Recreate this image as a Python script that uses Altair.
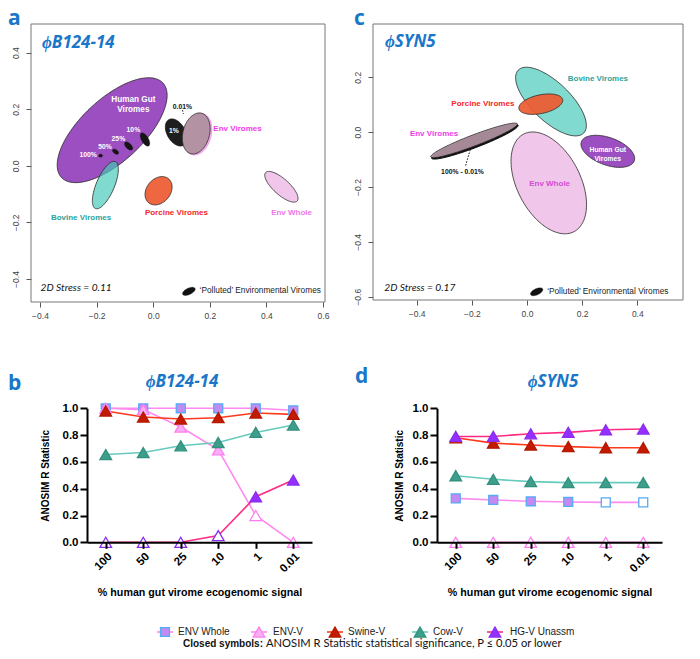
import altair as alt
import numpy as np
import pandas as pd

W, H = 684, 643
OX, OY = 8, 8  # page margin of the embedding page


def px(p):
    return p - OX


def py(p):
    return p - OY


# ----------------------------------------------------------------- line panels (b, d)
pct = ["100", "50", "25", "10", "1", "0.01"]
series = ["ENV Whole", "ENV-V", "Swine-V", "Cow-V", "HG-V Unassm"]

b_env_whole = [1.0, 1.0, 1.0, 1.0, 1.0, 0.985]
b_env_v = [1.0, 0.99, 0.86, 0.69, 0.20, 0.0]
b_swine = [0.98, 0.935, 0.92, 0.93, 0.965, 0.955]
b_cow = [0.655, 0.67, 0.72, 0.745, 0.82, 0.875]
b_hgv = [0.0, 0.0, 0.0, 0.05, 0.34, 0.465]

b_closed_env_whole = [1, 1, 1, 1, 1, 1]
b_closed_env_v = [1, 1, 1, 1, 0, 0]
b_closed_swine = [1, 1, 1, 1, 1, 1]
b_closed_cow = [1, 1, 1, 1, 1, 1]
b_closed_hgv = [0, 0, 0, 0, 1, 1]

d_env_whole = [0.328, 0.316, 0.306, 0.301, 0.298, 0.298]
d_env_v = [0.0, 0.0, 0.0, 0.0, 0.0, 0.0]
d_swine = [0.78, 0.74, 0.726, 0.714, 0.706, 0.706]
d_cow = [0.497, 0.47, 0.453, 0.445, 0.445, 0.445]
d_hgv = [0.79, 0.79, 0.81, 0.82, 0.84, 0.845]

d_closed_env_whole = [1, 1, 1, 1, 0, 0]
d_closed_env_v = [0, 0, 0, 0, 0, 0]
d_closed_swine = [1, 1, 1, 1, 1, 1]
d_closed_cow = [1, 1, 1, 1, 1, 1]
d_closed_hgv = [1, 1, 1, 1, 1, 1]

y_ticks_r = [0.0, 0.2, 0.4, 0.6, 0.8, 1.0]

# styles
line_colors = ["#ff8af0", "#ff8af0", "#ff3a1c", "#66cbbd", "#ff2a84"]
marker_fill = ["#c28bf2", "#f8aef2", "#c41a00", "#3d9e8b", "#9430ff"]
marker_stroke = ["#55aaf5", "#ff7df0", "#b31800", "#33907e", "#8a2cf0"]
marker_shape = ["square", "triangle-up", "triangle-up", "triangle-up", "triangle-up"]
marker_size = [80, 135, 135, 135, 135]
draw_order = ["ENV Whole", "ENV-V", "Cow-V", "Swine-V", "HG-V Unassm"]

fill_domain = series + [s + " open" for s in series]
fill_range = marker_fill + ["white"] * len(series)

COLOR = alt.Scale(domain=series, range=line_colors)
FILL = alt.Scale(domain=fill_domain, range=fill_range)
STROKE = alt.Scale(domain=series, range=marker_stroke)
SHAPE = alt.Scale(domain=series, range=marker_shape)

FONT = "Liberation Sans"
BLUE = "#1976c8"


def long_table(vals, closed):
    rows = []
    for s in series:
        for i, p in enumerate(pct):
            rows.append(dict(series=s, pct=p, i=i, value=vals[s][i],
                             fk=s if closed[s][i] else s + " open",
                             sz=marker_size[series.index(s)],
                             z=draw_order.index(s)))
    return pd.DataFrame(rows)


def line_panel(vals, closed, x_left, x_right, title_x):
    df = long_table(vals, closed)
    xs = alt.Scale(type="point", domain=pct, range=[px(x_left), px(x_right)], padding=0.5)
    ys = alt.Scale(domain=[0, 1], range=[py(542.3), py(408.3)], nice=False, zero=False)
    xaxis = alt.Axis(orient="bottom", offset=py(542.3) - H, labelAngle=315,
                     labelFont=FONT, labelFontWeight="bold", labelFontSize=11.5,
                     labelColor="black", labelPadding=2, tickSize=6, tickWidth=2,
                     tickColor="black", domainColor="black", domainWidth=2,
                     title="% human gut virome ecogenomic signal", titleFont=FONT,
                     titleFontWeight="bold", titleFontSize=10.7, titleColor="black",
                     titleY=50, titleBaseline="middle", grid=False, zindex=1)
    yaxis = alt.Axis(orient="left", offset=-px(x_left), values=y_ticks_r, format=".1f",
                     labelFont=FONT, labelFontWeight="bold", labelFontSize=11.5,
                     labelColor="black", labelPadding=2, tickSize=7, tickWidth=2,
                     tickColor="black", domainColor="black", domainWidth=2,
                     title="ANOSIM R Statistic", titleFont=FONT, titleFontWeight="bold",
                     titleFontSize=10, titleColor="black", titleX=title_x,
                     titleBaseline="middle", grid=False, labelFlush=False, zindex=1)
    lines = alt.Chart(df).mark_line(strokeWidth=1.6).encode(
        x=alt.X("pct:O", sort=pct, scale=xs, axis=xaxis),
        y=alt.Y("value:Q", scale=ys, axis=yaxis),
        color=alt.Color("series:N", scale=COLOR, legend=None),
        order="i:Q",
    )
    pts = alt.Chart(df.sort_values(["z", "i"])).mark_point(
        filled=True, strokeWidth=1.3, opacity=1).encode(
        x=alt.X("pct:O", sort=pct, scale=xs, axis=None),
        y=alt.Y("value:Q", scale=ys, axis=None),
        shape=alt.Shape("series:N", scale=SHAPE, legend=None),
        fill=alt.Fill("fk:N", scale=FILL, legend=None),
        stroke=alt.Stroke("series:N", scale=STROKE, legend=None),
        size=alt.Size("sz:Q", scale=None, legend=None),
    )
    return [lines, pts]


b_vals = {"ENV Whole": b_env_whole, "ENV-V": b_env_v, "Swine-V": b_swine,
          "Cow-V": b_cow, "HG-V Unassm": b_hgv}
b_closed = {"ENV Whole": b_closed_env_whole, "ENV-V": b_closed_env_v,
            "Swine-V": b_closed_swine, "Cow-V": b_closed_cow, "HG-V Unassm": b_closed_hgv}
d_vals = {"ENV Whole": d_env_whole, "ENV-V": d_env_v, "Swine-V": d_swine,
          "Cow-V": d_cow, "HG-V Unassm": d_hgv}
d_closed = {"ENV Whole": d_closed_env_whole, "ENV-V": d_closed_env_v,
            "Swine-V": d_closed_swine, "Cow-V": d_closed_cow, "HG-V Unassm": d_closed_hgv}

panel_b = line_panel(b_vals, b_closed, 87, 312, -42)
panel_d = line_panel(d_vals, d_closed, 437, 662, -38)

# ----------------------------------------------------------------- NMDS panels (a, c)
# ellipse parameters: centre, semi-axes, rotation (degrees)
a_ell = ["HGV", "Pol100", "Pol50", "Pol25", "Pol10", "Bovine", "Porcine", "Pol1",
         "EnvVirRing", "EnvVir", "EnvWhole", "Key"]
a_cx = [-0.145, -0.186, -0.133, -0.087, -0.029, -0.169, 0.019, 0.081, 0.157, 0.152, 0.453, 0.126]
a_cy = [0.126, 0.036, 0.050, 0.070, 0.093, -0.068, -0.088, 0.118, 0.112, 0.1145, -0.074, -0.4437]
a_major = [0.245, 0.007, 0.012, 0.018, 0.026, 0.090, 0.055, 0.052, 0.074, 0.074, 0.075, 0.024]
a_minor = [0.110, 0.005, 0.007, 0.0095, 0.012, 0.032, 0.042, 0.032, 0.047, 0.047, 0.028, 0.011]
a_angle = [43, 0, -35, -45, -60, 67, 50, -60, 75, 75, -42, 25]

c_ell = ["EnvVirBlack", "EnvVir", "EnvWhole", "Bovine", "Porcine", "HGV", "Key"]
c_cx = [-0.189, -0.192, 0.079, 0.087, 0.050, 0.293, 0.035]
c_cy = [-0.035, -0.030, -0.185, 0.1115, 0.102, -0.070, -0.582]
c_major = [0.168, 0.168, 0.200, 0.165, 0.081, 0.102, 0.024]
c_minor = [0.021, 0.020, 0.115, 0.070, 0.034, 0.050, 0.011]
c_angle = [21, 21, -63, -44, 12, -20, 25]

ell_style = {
    "HGV": dict(fill="#9b4fc0", fillOpacity=1, stroke="#2a2a2a", strokeWidth=0.8),
    "Pol100": dict(fill="#151515", fillOpacity=1, stroke="#151515", strokeWidth=0.5),
    "Pol50": dict(fill="#151515", fillOpacity=1, stroke="#151515", strokeWidth=0.5),
    "Pol25": dict(fill="#151515", fillOpacity=1, stroke="#151515", strokeWidth=0.5),
    "Pol10": dict(fill="#151515", fillOpacity=1, stroke="#151515", strokeWidth=0.5),
    "Pol1": dict(fill="#1e1e1e", fillOpacity=1, stroke="#111", strokeWidth=0.8),
    "Key": dict(fill="#111", fillOpacity=1, stroke="#111", strokeWidth=0.5),
    "Bovine": dict(fill="#45c8b8", fillOpacity=0.68, stroke="#2a2a2a", strokeWidth=0.8),
    "Porcine": dict(fill="#ee5a30", fillOpacity=0.92, stroke="#2a2a2a", strokeWidth=0.8),
    "EnvVirRing": dict(fill="#f3b6ee", fillOpacity=1, stroke="#f0a6ea", strokeWidth=1.5),
    "EnvVir": dict(fill="#af909e", fillOpacity=0.95, stroke="#2a2a2a", strokeWidth=0.8),
    "EnvVirBlack": dict(fill="#111", fillOpacity=1, stroke="#111", strokeWidth=1),
    "EnvWhole": dict(fill="#f1c6eb", fillOpacity=1, stroke="#2a2a2a", strokeWidth=0.8),
}


def ellipse_table(cx, cy, a, b, ang):
    t = np.linspace(0, 2 * np.pi, 97)
    th = np.deg2rad(ang)
    x = cx + a * np.cos(t) * np.cos(th) - b * np.sin(t) * np.sin(th)
    y = cy + a * np.cos(t) * np.sin(th) + b * np.sin(t) * np.cos(th)
    return pd.DataFrame({"x": x, "y": y, "o": np.arange(len(t))})


def text_layer(xs_, ys_, texts, xscale, yscale, **mk):
    df = pd.DataFrame({"x": xs_, "y": ys_, "t": texts})
    return alt.Chart(df).mark_text(**mk).encode(
        x=alt.X("x:Q", scale=xscale, axis=None),
        y=alt.Y("y:Q", scale=yscale, axis=None),
        text="t:N",
    )


def nmds_panel(xdom, ydom, xr, yr, xticks, yticks, names, cx, cy, ma, mi, ang,
               texts, leaders):
    xs = alt.Scale(domain=xdom, range=xr, nice=False, zero=False)
    ys = alt.Scale(domain=ydom, range=yr, nice=False, zero=False)
    xaxis = alt.Axis(orient="bottom", offset=yr[0] - H, values=xticks, format=".1f",
                     domain=False, grid=False, tickSize=5, tickColor="#555",
                     labelFont=FONT, labelFontSize=8.5, labelColor="#444",
                     labelPadding=4, labelFlush=False, title=None)
    yaxis = alt.Axis(orient="left", offset=-xr[0], values=yticks, format=".1f",
                     domain=False, grid=False, tickSize=5, tickColor="#555",
                     labelFont=FONT, labelFontSize=8.5, labelColor="#444",
                     labelAngle=270, labelAlign="center", labelBaseline="bottom",
                     labelPadding=6, labelFlush=False, title=None)
    box = alt.Chart(pd.DataFrame({"x0": [xdom[0]], "x1": [xdom[1]],
                                  "y0": [ydom[0]], "y1": [ydom[1]]})).mark_rect(
        fillOpacity=0, stroke="#777", strokeWidth=1).encode(
        x=alt.X("x0:Q", scale=xs, axis=xaxis), x2="x1:Q",
        y=alt.Y("y0:Q", scale=ys, axis=yaxis), y2="y1:Q")
    layers = [box]
    for k, n in enumerate(names):
        st = ell_style[n]
        layers.append(
            alt.Chart(ellipse_table(cx[k], cy[k], ma[k], mi[k], ang[k])).mark_line(
                fill=st["fill"], fillOpacity=st["fillOpacity"], stroke=st["stroke"],
                strokeWidth=st["strokeWidth"]).encode(
                x=alt.X("x:Q", scale=xs, axis=None),
                y=alt.Y("y:Q", scale=ys, axis=None),
                order="o:Q"))
    for (x0, y0, x1, y1) in leaders:
        layers.append(
            alt.Chart(pd.DataFrame({"x": [x0, x1], "y": [y0, y1], "o": [0, 1]})).mark_line(
                stroke="#111", strokeWidth=1, strokeDash=[1.5, 1.5]).encode(
                x=alt.X("x:Q", scale=xs, axis=None),
                y=alt.Y("y:Q", scale=ys, axis=None), order="o:Q"))
    for (tx, ty, tt, mk) in texts:
        layers.append(text_layer(tx, ty, tt, xs, ys, **mk))
    return layers


def bold(color, size, align="center"):
    return dict(font=FONT, fontWeight="bold", fontSize=size, color=color, align=align,
                baseline="middle")


stress_style = dict(font="Lato", fontStyle="italic", fontSize=10.2, color="#111",
                    align="left", baseline="middle")
key_style = dict(font=FONT, fontSize=8.3, color="#222", align="left", baseline="middle")

# panel a labels
a_white_text = ["Human Gut", "Viromes"]
a_white_x = [-0.070, -0.070]
a_white_y = [0.2326, 0.197]
a_pct_text = ["10%", "25%", "50%", "100%", "1%"]
a_pct_x = [-0.070, -0.123, -0.170, -0.230, 0.0735]
a_pct_y = [0.128, 0.0945, 0.068, 0.038, 0.1246]
a_texts = [
    (a_white_x, a_white_y, a_white_text, bold("white", 8.2)),
    (a_pct_x, a_pct_y, a_pct_text, bold("white", 6.8)),
    ([0.1035], [0.2096], ["0.01%"], bold("#111", 6.8)),
    ([0.298], [0.132], ["Env Viromes"], bold("#f03ce8", 8)),
    ([-0.255], [-0.183], ["Bovine Viromes"], bold("#2ea39a", 8)),
    ([0.082], [-0.166], ["Porcine Viromes"], bold("#f5262a", 8)),
    ([0.489], [-0.165], ["Env Whole"], bold("#f07ae8", 8)),
    ([-0.398], [-0.4307], ["2D Stress = 0.11"], stress_style),
    ([0.164], [-0.4437], ["\u2018Polluted\u2019 Environmental Viromes"], key_style),
]
a_leaders = [(0.1035, 0.197, 0.107, 0.184)]

panel_a = nmds_panel([-0.4318, 0.6071], [-0.4813, 0.5014], [px(31), px(325)],
                     [py(302), py(24)], [-0.4, -0.2, 0.0, 0.2, 0.4, 0.6],
                     [-0.4, -0.2, 0.0, 0.2, 0.4],
                     a_ell, a_cx, a_cy, a_major, a_minor, a_angle, a_texts, a_leaders)

# panel c labels
c_texts = [
    ([0.257], [0.194], ["Bovine Viromes"], bold("#2ea39a", 8)),
    ([-0.160], [0.104], ["Porcine Viromes"], bold("#f5262a", 8)),
    ([-0.337], [-0.0073], ["Env Viromes"], bold("#f03ce8", 8)),
    ([0.293, 0.293], [-0.064, -0.097], ["Human Gut", "Viromes"], bold("white", 6.8)),
    ([0.082], [-0.189], ["Env Whole"], bold("#d24cd2", 8)),
    ([-0.234], [-0.145], ["100% - 0.01%"], bold("#111", 6.8)),
    ([-0.5176], [-0.5685], ["2D Stress = 0.17"], stress_style),
    ([0.073], [-0.582], ["\u2018Polluted\u2019 Environmental Viromes"], key_style),
]
c_leaders = [(-0.206, -0.064, -0.224, -0.127)]

panel_c = nmds_panel([-0.5584, 0.5657], [-0.612, 0.3943], [px(373), px(683)],
                     [py(300), py(24)], [-0.4, -0.2, 0.0, 0.2, 0.4],
                     [-0.6, -0.4, -0.2, 0.0, 0.2],
                     c_ell, c_cx, c_cy, c_major, c_minor, c_angle, c_texts, c_leaders)

# ----------------------------------------------------------------- annotations (page coords)
XP = alt.Scale(domain=[OX, OX + W], range=[0, W], nice=False, zero=False)
YP = alt.Scale(domain=[OY, OY + H], range=[0, H], nice=False, zero=False)

letter_style = dict(font="Open Sans", fontWeight="bold", fontSize=21, color=BLUE,
                    align="left", baseline="alphabetic")
title_style_l = dict(font="Open Sans", fontWeight="bold", fontStyle="italic", fontSize=17,
                     color=BLUE, align="left", baseline="middle")
title_style_c = dict(title_style_l, align="center")

legend_x = [165, 259, 335, 420, 495]
legend_text_x = [178, 273, 348, 433, 510]
legend_y = 632

leg_df = pd.DataFrame({
    "series": series, "x": legend_x, "xa": [v - 8 for v in legend_x],
    "xb": [v + 8 for v in legend_x], "y": [legend_y] * 5, "fk": series,
    "sz": marker_size,
})
leg_lines = alt.Chart(leg_df).mark_rule(strokeWidth=1.6).encode(
    x=alt.X("xa:Q", scale=XP, axis=None), x2="xb:Q",
    y=alt.Y("y:Q", scale=YP, axis=None),
    color=alt.Color("series:N", scale=COLOR, legend=None))
leg_marks = alt.Chart(leg_df).mark_point(filled=True, strokeWidth=1.3, opacity=1).encode(
    x=alt.X("x:Q", scale=XP, axis=None),
    y=alt.Y("y:Q", scale=YP, axis=None),
    shape=alt.Shape("series:N", scale=SHAPE, legend=None),
    fill=alt.Fill("fk:N", scale=FILL, legend=None),
    stroke=alt.Stroke("series:N", scale=STROKE, legend=None),
    size=alt.Size("sz:Q", scale=None, legend=None))

annot = [
    text_layer([8, 354, 8, 355], [25, 25, 390, 383], ["a", "c", "b", "d"], XP, YP,
               **letter_style),
    text_layer([42, 385], [43, 42], ["\u03d5B124-14", "\u03d5SYN5"], XP, YP, **title_style_l),
    text_layer([182, 553], [382, 382], ["\u03d5B124-14", "\u03d5SYN5"], XP, YP, **title_style_c),
    leg_lines,
    leg_marks,
    text_layer(legend_text_x, [legend_y] * 5, series, XP, YP,
               font=FONT, fontSize=10, color="#222", align="left", baseline="middle"),
    text_layer([263], [644], ["Closed symbols:"], XP, YP, font=FONT, fontWeight="bold",
               fontSize=10, color="#111", align="right", baseline="middle"),
    text_layer([266], [644],
               ["ANOSIM R Statistic statistical significance, P \u2264 0.05 or lower"],
               XP, YP, font="Lato", fontSize=11.2, color="#111", align="left",
               baseline="middle"),
]

all_layers = panel_a + panel_c + panel_b + panel_d + annot

chart = alt.layer(*all_layers).resolve_scale(
    x="independent", y="independent"
).resolve_axis(
    x="independent", y="independent"
).properties(
    width=W, height=H, padding=0, autosize=alt.AutoSizeParams(type="none")
).configure_view(strokeWidth=0)

chart.save("out.html", embed_options={"renderer": "svg", "actions": False})
